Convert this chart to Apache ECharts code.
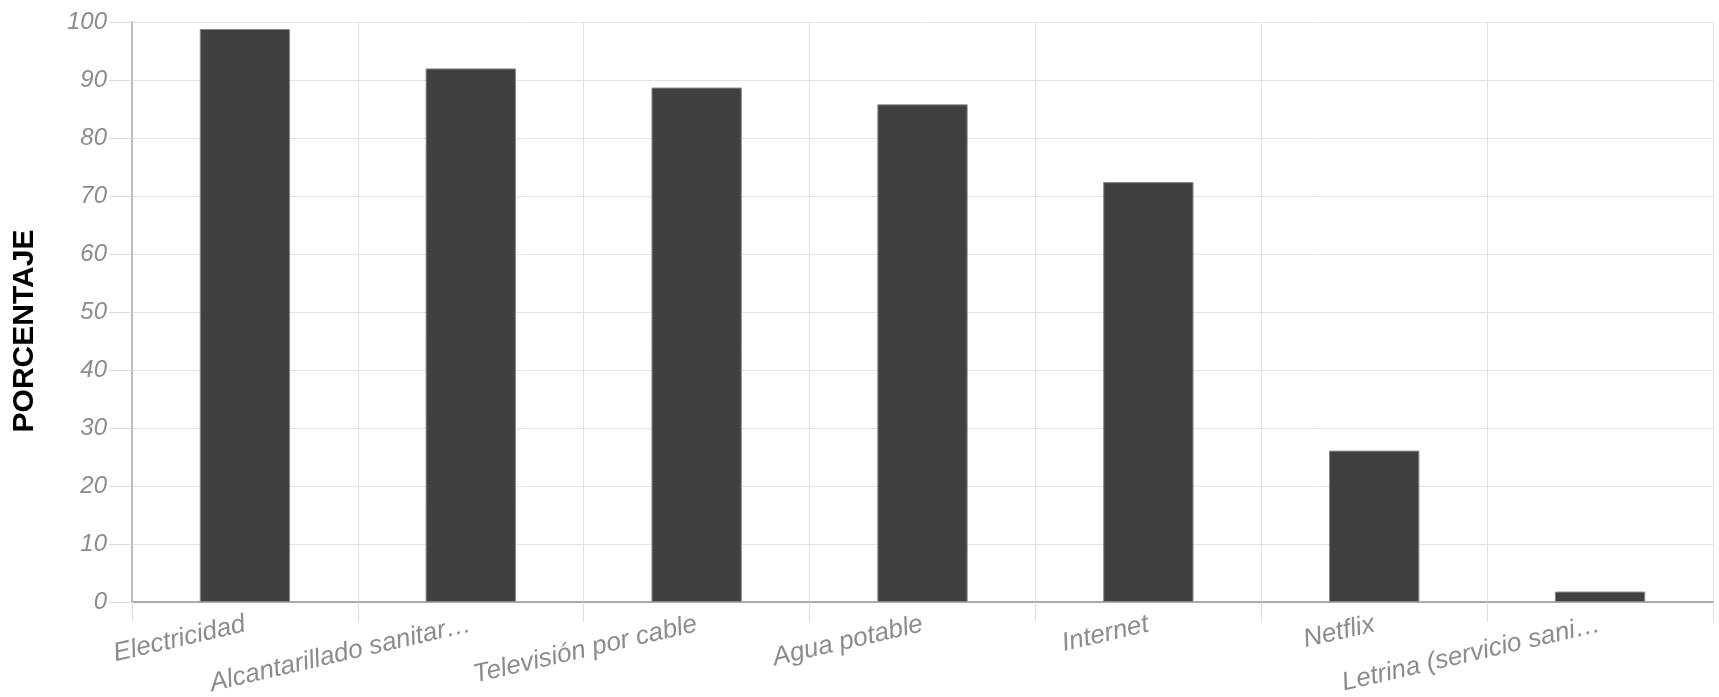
<!DOCTYPE html>
<html>
<head>
<meta charset="utf-8">
<script src="https://cdn.jsdelivr.net/npm/echarts@6/dist/echarts.min.js"></script>
<style>
html,body{margin:0;padding:0;background:#fff;}
#chart{width:1719px;height:697px;}
</style>
</head>
<body>
<div id="chart"></div>
<script>
const categories = ["Electricidad", "Alcantarillado sanitar\u2026", "Televisi\u00f3n por cable", "Agua potable", "Internet", "Netflix", "Letrina (servicio sani\u2026"];
const values = [98.8, 92.0, 88.7, 85.8, 72.4, 26.1, 1.8];
const yAxisName = "PORCENTAJE";

const chart = echarts.init(document.getElementById('chart'), null, {renderer: 'canvas'});
const font = "'Liberation Sans', Arial, Helvetica, sans-serif";
chart.setOption({
  animation: false,
  backgroundColor: '#ffffff',
  grid: {left: 132, right: 6, top: 22, bottom: 95, containLabel: false, outerBoundsMode: 'none'},
  xAxis: {
    type: 'category',
    data: categories,
    boundaryGap: true,
    axisLine: {show: true, lineStyle: {color: '#aaaaaa', width: 2}},
    axisTick: {show: true, length: 20, alignWithLabel: false, lineStyle: {color: '#dddddd', width: 1}},
    splitLine: {show: true, lineStyle: {color: '#e3e3e3', width: 1}},
    axisLabel: {
      interval: 0, rotate: 13, margin: 22,
      color: '#8c8c8c', fontSize: 26, fontStyle: 'italic', fontFamily: font
    }
  },
  yAxis: {
    type: 'value',
    min: 0, max: 100, interval: 10,
    name: yAxisName,
    nameLocation: 'middle',
    nameGap: 92,
    nameRotate: 90,
    nameTextStyle: {color: '#000', fontSize: 30, fontWeight: 'bold', fontFamily: font, padding: [0, 38, 0, 0]},
    axisLine: {show: true, lineStyle: {color: '#bbbbbb', width: 2}},
    axisTick: {show: true, length: 23, lineStyle: {color: '#dddddd', width: 1}},
    splitLine: {show: true, lineStyle: {color: '#e3e3e3', width: 1}},
    axisLabel: {margin: 25, color: '#8c8c8c', fontSize: 24, fontStyle: 'italic', fontFamily: font}
  },
  series: [{
    type: 'bar',
    data: values,
    barWidth: '40%',
    itemStyle: {color: '#404040', borderColor: '#8a8a8a', borderWidth: 1}
  }]
});
</script>
</body>
</html>
